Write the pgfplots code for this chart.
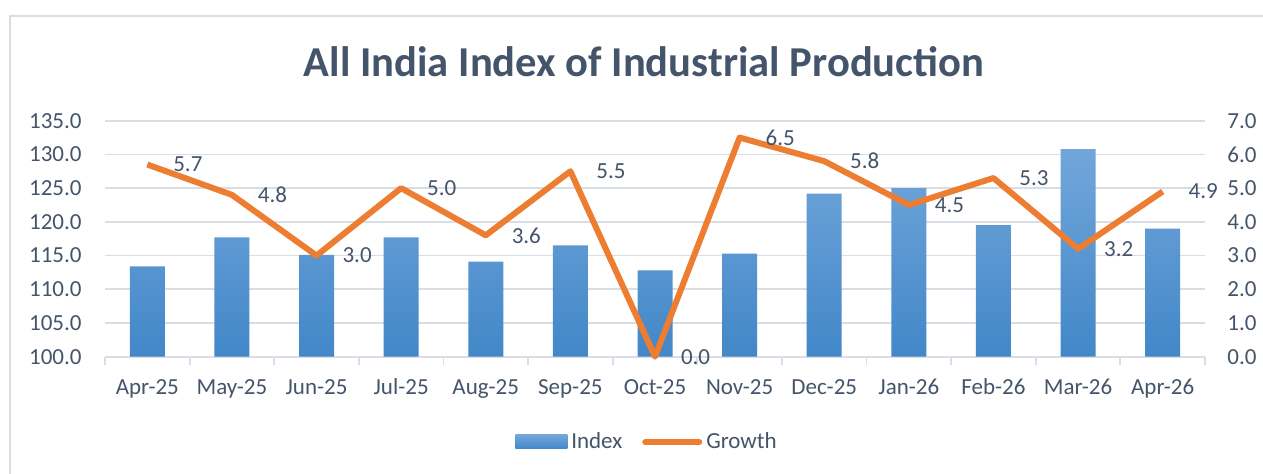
\documentclass[border=0pt]{standalone}
\usepackage{fontspec}
\setmainfont{Carlito}
\usepackage{pgfplots}
\pgfplotsset{compat=1.18}
\definecolor{txt}{RGB}{68,84,106}
\definecolor{gridc}{RGB}{217,222,230}
\definecolor{barTop}{RGB}{114,166,219}
\definecolor{barBot}{RGB}{66,135,200}
\definecolor{org}{RGB}{237,125,49}
\newcommand{\tf}{\fontsize{11.5}{13}\selectfont}
\begin{document}
\begin{tikzpicture}
\useasboundingbox (0,0) rectangle (631.5pt,237pt);
\draw[gridc, line width=1pt] (5pt,0) -- (5pt,229pt) -- (631.5pt,229pt);
\node[anchor=base, text=txt, font=\fontsize{21.3}{24}\selectfont\bfseries] at (322pt,198.5pt) {All India Index of Industrial Production};
\begin{axis}[
  at={(52.5pt,58.65pt)}, anchor=south west, scale only axis,
  width=550pt, height=118pt,
  xmin=-0.5, xmax=12.5, ymin=100, ymax=135,
  y coord trafo/.code={\pgfmathparse{#1-100}},
  y coord inv trafo/.code={\pgfmathparse{#1+100}},
  ytick={100,105,110,115,120,125,130,135},
  yticklabels={100.0,105.0,110.0,115.0,120.0,125.0,130.0,135.0},
  xtick={0,...,12},
  xticklabels={Apr-25,May-25,Jun-25,Jul-25,Aug-25,Sep-25,Oct-25,Nov-25,Dec-25,Jan-26,Feb-26,Mar-26,Apr-26},
  minor xtick={-0.5,0.5,...,12.5},
  major tick length=0pt, minor tick length=4pt,
  tick align=outside,
  minor tick style={gridc, line width=0.9pt},
  axis x line*=bottom, axis y line*=left,
  x axis line style={gridc, line width=0.9pt, -},
  y axis line style={draw=none},
  ymajorgrids, grid style={gridc, line width=0.9pt},
  xticklabel style={font=\tf, text=txt, inner sep=0pt, anchor=base, yshift=-18.9pt},
  yticklabel style={font=\tf, text=txt, inner sep=0pt, xshift=-11.5pt},
  /pgf/number format/assume math mode=true,
  clip=false,
]
\addplot[ybar, bar width=17.5pt, draw=none, top color=barTop, bottom color=barBot]
  coordinates {(0,113.4) (1,117.7) (2,115.1) (3,117.7) (4,114.1) (5,116.5) (6,112.8)
               (7,115.3) (8,124.2) (9,125.0) (10,119.5) (11,130.8) (12,119.0)};
\end{axis}
\begin{axis}[
  at={(52.5pt,58.65pt)}, anchor=south west, scale only axis,
  width=550pt, height=118pt,
  xmin=-0.5, xmax=12.5, ymin=0, ymax=7,
  ytick={0,1,...,7},
  axis y line*=right, axis x line=none,
  y axis line style={draw=none},
  major tick length=0pt,
  yticklabel style={font=\tf, text=txt, inner sep=0pt, xshift=11pt,
    /pgf/number format/.cd, fixed, fixed zerofill, precision=1},
  /pgf/number format/assume math mode=true,
  clip=false,
  legend style={at={(0.5,-0.361)}, anchor=center, draw=none, fill=none,
    font=\tf, text=txt, legend columns=2, xshift=-3.5pt,
    /tikz/every even column/.append style={column sep=8pt}},
  legend cell align=left,
]
\addlegendimage{draw=none, legend image code/.code={\shade[draw=none, top color=barTop,bottom color=barBot] (0pt,-3.5pt) rectangle (26pt,3.5pt);}}
\addlegendentry{Index}
\addplot[org, line width=3pt, line join=round,
  legend image code/.code={\draw[org, line width=3pt, line cap=round] (1pt,0pt) -- (28pt,0pt);},
  nodes near coords,
  every node near coord/.append style={anchor=west, xshift=11.5pt, inner sep=0pt, font=\tf, text=txt},
  point meta=explicit symbolic]
  coordinates {(0,5.7)[5.7] (1,4.8)[4.8] (2,3.0)[3.0] (3,5.0)[5.0] (4,3.6)[3.6] (5,5.5)[5.5] (6,0.0)[0.0]
               (7,6.5)[6.5] (8,5.8)[5.8] (9,4.5)[4.5] (10,5.3)[5.3] (11,3.2)[3.2] (12,4.9)[4.9]};
\addlegendentry{Growth}
\end{axis}
\end{tikzpicture}
\end{document}
